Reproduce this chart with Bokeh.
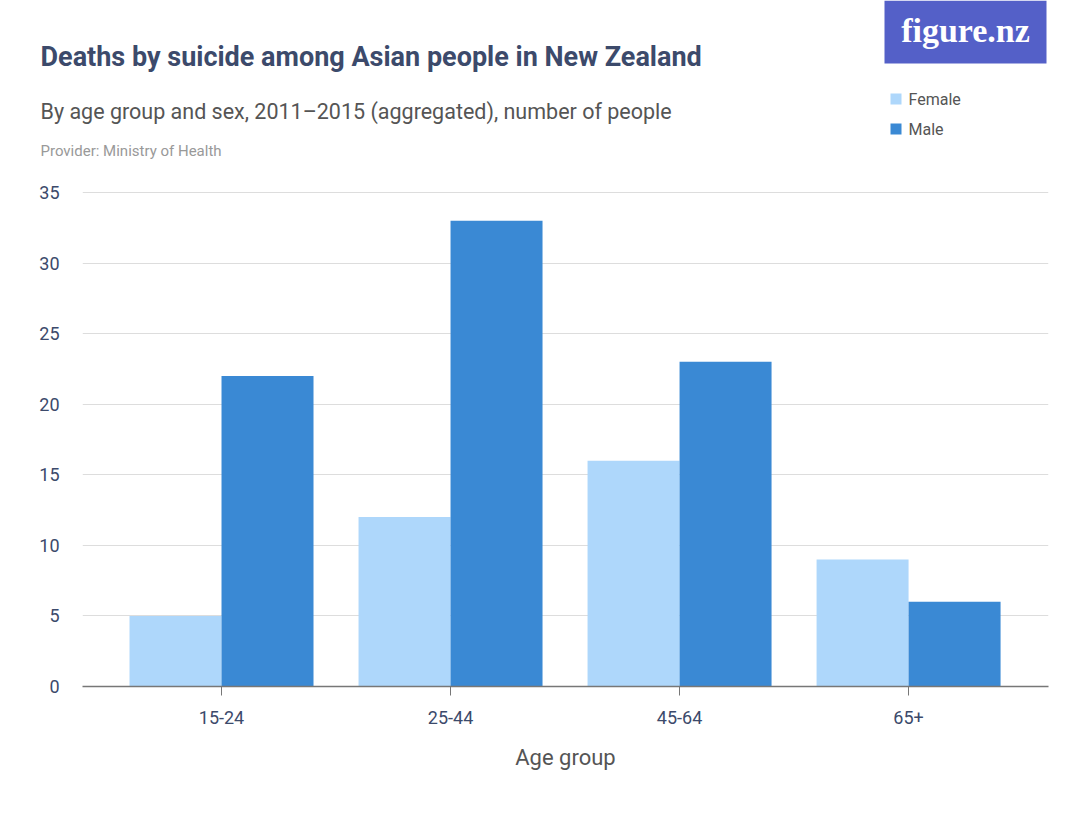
from bokeh.plotting import figure
from bokeh.models import Range1d, FixedTicker, Label, ColumnDataSource, BoxAnnotation
from bokeh.layouts import column
from bokeh.transform import dodge
from bokeh.embed import file_html
from bokeh.resources import INLINE

age_groups = ["15-24", "25-44", "45-64", "65+"]
female = [5, 12, 16, 9]
male = [22, 33, 23, 6]
y_ticks = [0, 5, 10, 15, 20, 25, 30, 35]
series_names = ["Female", "Male"]
series_colors = ["#aed7fb", "#3a89d4"]

FONT = "Roboto"
NAVY = "#3c4a6b"
HEAD_H = 168

# ---------- header (title, subtitle, logo, legend) ----------
h = figure(width=1080, height=HEAD_H, output_backend="svg", toolbar_location=None,
           x_range=Range1d(0, 1080), y_range=Range1d(HEAD_H, 0),
           min_border=0, min_border_left=0, min_border_right=0, min_border_top=0, min_border_bottom=0)
h.axis.visible = False
h.grid.visible = False
h.outline_line_color = None
h.frame_align = False

def lab(x, y, text, size, color, style="normal", font=FONT, **kw):
    h.add_layout(Label(x=x, y=y, text=text, text_font=font, text_font_size=size,
                       text_color=color, text_font_style=style, text_baseline="middle", **kw))

lab(40, 56, "Deaths by suicide among Asian people in New Zealand", "27px", NAVY, "bold")
lab(40, 111, "By age group and sex, 2011\u20132015 (aggregated), number of people", "21.5px", "#555555")
lab(40, 150, "Provider: Ministry of Health", "15px", "#999999")

h.add_layout(BoxAnnotation(left=884, right=1046, top=0, bottom=63, fill_color="#5460c8",
                           fill_alpha=1, line_color=None))
lab(965, 30, "figure.nz", "34px", "white", "bold", font="Liberation Serif", text_align="center")

for i, (name, col) in enumerate(zip(series_names, series_colors)):
    yy = 99 + 30 * i
    h.add_layout(BoxAnnotation(left=890, right=901, top=yy - 6, bottom=yy + 5, fill_color=col,
                               fill_alpha=1, line_color=None))
    lab(908, yy, name, "16px", "#555555")

# ---------- chart ----------
src = ColumnDataSource(dict(x=list(range(len(age_groups))), female=female, male=male))

FL, FR, FT, FB = 82, 1048, 190 - HEAD_H, 686 - HEAD_H
CH = 814 - HEAD_H
p = figure(width=1080, height=CH, output_backend="svg", toolbar_location=None,
           x_range=Range1d(-0.607, 3.611), y_range=Range1d(0, 35.14),
           min_border_left=FL, min_border_right=1080 - FR, min_border_top=FT, min_border_bottom=CH - FB)
p.outline_line_color = None
p.frame_align = False

bw = 0.4017
p.vbar(x=dodge("x", -bw / 2), top="female", width=bw, source=src, fill_color=series_colors[0], line_color=None)
p.vbar(x=dodge("x", bw / 2), top="male", width=bw, source=src, fill_color=series_colors[1], line_color=None)

p.xaxis.ticker = FixedTicker(ticks=list(range(len(age_groups))))
p.xaxis.major_label_overrides = {i: g for i, g in enumerate(age_groups)}
p.xaxis.axis_line_color = "#777777"
p.xaxis.axis_line_width = 1.5
p.xaxis.major_tick_line_color = "#777777"
p.xaxis.major_tick_out = 9
p.xaxis.major_tick_in = 0
p.xaxis.minor_tick_line_color = None
p.xaxis.major_label_text_font = FONT
p.xaxis.major_label_text_font_size = "18px"
p.xaxis.major_label_text_color = NAVY
p.xaxis.major_label_standoff = 15
p.xaxis.axis_label = "Age group"
p.xaxis.axis_label_text_font = FONT
p.xaxis.axis_label_text_font_size = "22px"
p.xaxis.axis_label_text_font_style = "normal"
p.xaxis.axis_label_text_color = "#555555"
p.xaxis.axis_label_standoff = 18
p.xgrid.grid_line_color = None

p.yaxis.ticker = FixedTicker(ticks=y_ticks)
p.yaxis.axis_line_color = None
p.yaxis.major_tick_line_color = None
p.yaxis.minor_tick_line_color = None
p.yaxis.major_label_text_font = FONT
p.yaxis.major_label_text_font_size = "18px"
p.yaxis.major_label_text_color = NAVY
p.yaxis.major_label_standoff = 17
p.ygrid.grid_line_color = "#dddddd"
p.ygrid.grid_line_width = 1.2

layout = column(h, p, spacing=0)
open("out.html", "w").write(file_html(layout, INLINE))
